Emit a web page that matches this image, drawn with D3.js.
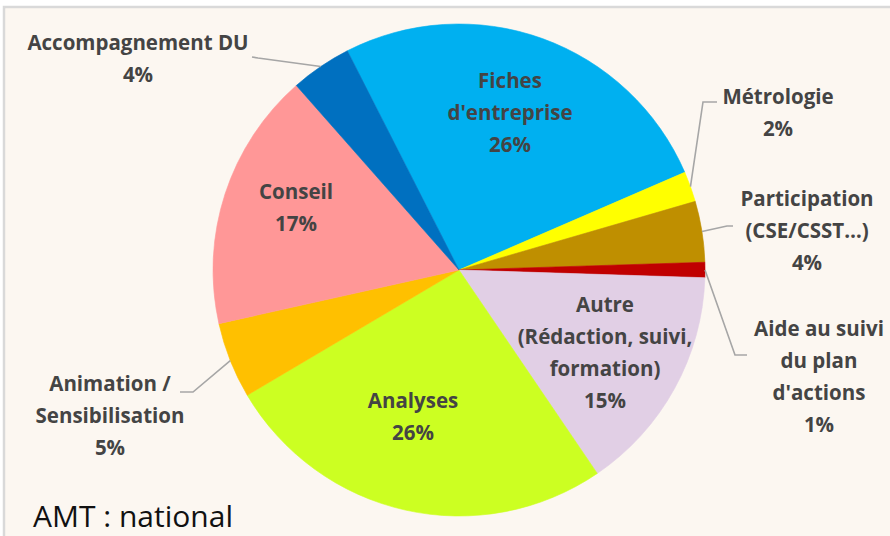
<!DOCTYPE html>
<html>
<head>
<meta charset="utf-8">
<script src="https://cdn.jsdelivr.net/npm/d3@7"></script>
<style>
  html, body { margin: 0; padding: 0; background: #ffffff; }
  svg { display: block; }
</style>
</head>
<body>
<svg id="chart" width="890" height="536"></svg>
<script>
// Répartition des actions (AMT : national)
const categories = [
  "Fiches d'entreprise",
  "Métrologie",
  "Participation (CSE/CSST…)",
  "Aide au suivi du plan d'actions",
  "Autre (Rédaction, suivi, formation)",
  "Analyses",
  "Animation / Sensibilisation",
  "Conseil",
  "Accompagnement DU"
];
const labelLines = [
  ["Fiches", "d'entreprise"],
  ["Métrologie"],
  ["Participation", "(CSE/CSST…)"],
  ["Aide au suivi", "du plan", "d'actions"],
  ["Autre", "(Rédaction, suivi,", "formation)"],
  ["Analyses"],
  ["Animation /", "Sensibilisation"],
  ["Conseil"],
  ["Accompagnement DU"]
];
const shares = [26, 2, 4, 1, 15, 26, 5, 17, 4];
const colors = ["#00B0F0", "#FFFF00", "#BF8F00", "#C00000", "#E1CFE5",
                "#CCFF22", "#FFC000", "#FF9797", "#0070C0"];

// Layout
const W = 890, H = 536;
const cx = 459, cy = 270, R = 246;
const lineH = 32;
const startDeg = -27;

// Label placement: inside labels (x, y of first line), outside labels with leader elbows
const labelLayout = [
  { x: 510, y: 80 },
  { x: 778, y: 96,  elbow: [703, 102], end: [717, 102] },
  { x: 807, y: 198, elbow: [727, 226], end: [733, 226] },
  { x: 819, y: 328, elbow: [735, 355], end: [747, 355] },
  { x: 605, y: 304 },
  { x: 413, y: 400 },
  { x: 110, y: 383, elbow: [193, 392], end: [180, 392] },
  { x: 296, y: 191 },
  { x: 138, y: 42,  elbow: [258, 58],  end: [252, 57] }
];

const svg = d3.select("#chart");

// frame + background
svg.append("rect").attr("x", 0).attr("y", 0).attr("width", W).attr("height", H).attr("fill", "#ffffff");
svg.append("rect").attr("x", 4).attr("y", 7).attr("width", W + 10).attr("height", H + 10)
  .attr("fill", "#FCF7F1").attr("stroke", "#D9D9D9").attr("stroke-width", 2.5);

const data = categories.map((c, i) => ({ name: c, value: shares[i], color: colors[i], lines: labelLines[i], layout: labelLayout[i] }));

const pie = d3.pie().sort(null).value(d => d.value)
  .startAngle(startDeg * Math.PI / 180)
  .endAngle(startDeg * Math.PI / 180 + 2 * Math.PI);
const arc = d3.arc().innerRadius(0).outerRadius(R);
const edgeArc = d3.arc().innerRadius(R).outerRadius(R);

const arcs = pie(data);
const g = svg.append("g").attr("transform", `translate(${cx},${cy})`);

g.selectAll("path.slice").data(arcs).join("path")
  .attr("class", "slice")
  .attr("d", arc)
  .attr("fill", d => d.data.color)
  .attr("stroke", d => d.data.color)
  .attr("stroke-width", 0.6);

// leader lines for the outside labels
const leaders = arcs.filter(d => d.data.layout.elbow);
svg.selectAll("polyline.leader").data(leaders).join("polyline")
  .attr("class", "leader")
  .attr("fill", "none")
  .attr("stroke", "#A6A6A6")
  .attr("stroke-width", 1.6)
  .attr("points", d => {
    const [px, py] = edgeArc.centroid(d);
    const L = d.data.layout;
    return [[px + cx, py + cy], L.elbow, L.end].map(p => p.join(",")).join(" ");
  });

// labels: name lines then the percentage
const labels = svg.selectAll("text.lbl").data(arcs).join("text")
  .attr("class", "lbl")
  .attr("text-anchor", "middle")
  .attr("font-family", "'Open Sans', Lato, sans-serif")
  .attr("font-weight", 700)
  .attr("font-size", 20.5)
  .attr("fill", "#444444");

labels.each(function(d) {
  const t = d3.select(this);
  const L = d.data.layout;
  const lines = d.data.lines.concat([d.data.value + "%"]);
  lines.forEach((ln, i) => {
    t.append("tspan")
      .attr("x", L.x)
      .attr("y", L.y + i * lineH)
      .attr("dominant-baseline", "central")
      .text(ln);
  });
});

svg.append("text")
  .attr("x", 33).attr("y", 527)
  .attr("font-family", "'Open Sans', Lato, sans-serif")
  .attr("font-size", 30)
  .attr("fill", "#111111")
  .text("AMT : national");
</script>
</body>
</html>
